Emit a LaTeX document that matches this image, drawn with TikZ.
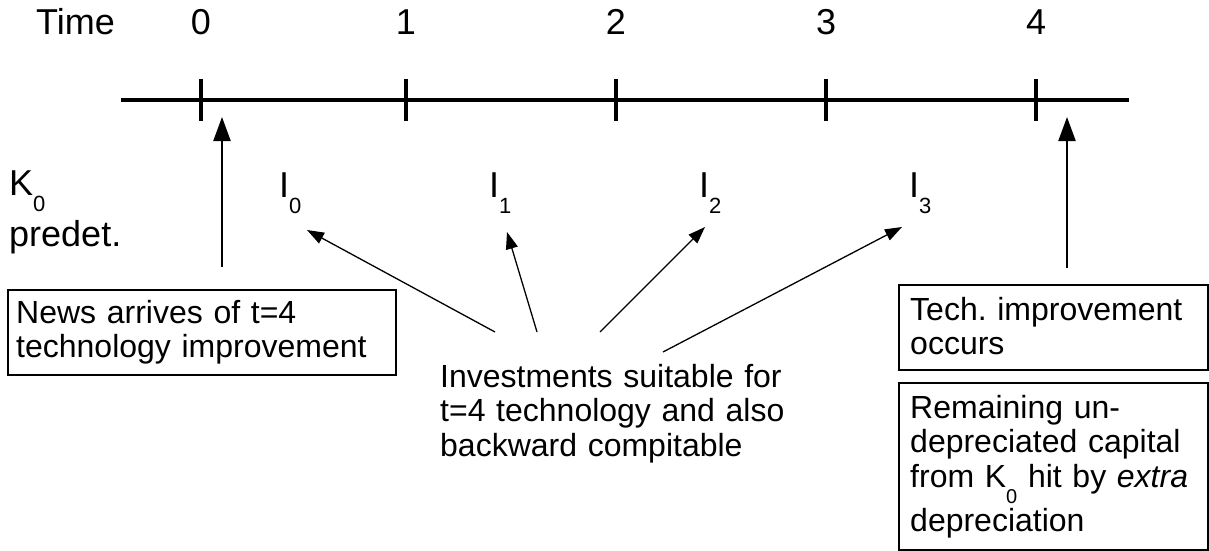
\documentclass[tikz,border=0pt]{standalone}
\usepackage{fontspec}
\setmainfont{Liberation Sans}
\usetikzlibrary{arrows.meta}
% subscripts set low, their top level with the letter's baseline
\newcommand{\labsub}[1]{\raisebox{-16pt}{\fontsize{22}{22}\selectfont #1}}
\newcommand{\boxsub}[1]{\raisebox{-16pt}{\fontsize{20}{20}\selectfont #1}}

\begin{document}
\begin{tikzpicture}[x=1pt,y=-1pt,
  big/.style={font=\fontsize{36}{40}\selectfont, inner sep=0pt},
  lbl/.style={font={\fontsize{32}{34.5}\selectfont\lineskip=5.5pt}, inner sep=0pt},
  para/.style={lbl, text width=#1, align=left, anchor=base west},
  frame/.style={draw, line width=1.5pt, inner sep=0pt, anchor=north west},
  axis/.style={line width=4pt},
  tickmark/.style={line width=3.5pt},
  bigarrow/.style={line width=2.2pt, -{Triangle[length=24pt,width=17pt]}},
  thinarrow/.style={line width=1.3pt, -{Triangle[length=17pt,width=12pt]}}]

\useasboundingbox[fill=white] (0,0) rectangle (1209,551);

% time axis
\coordinate (axisL) at (121,100);
\coordinate (axisR) at (1129,100);
\draw[axis] (axisL) -- (axisR);

\node[big, anchor=base west] (timelbl) at (36,35) {Time};
\foreach \t/\x in {0/201,1/406,2/616,3/826,4/1036}{
  \coordinate (tickTop\t) at (\x,79);
  \coordinate (tickBot\t) at (\x,121);
  \draw[tickmark] (tickTop\t) -- (tickBot\t);
  \node[big, anchor=base] (num\t) at (\x,35) {\t};
}

% initial capital
\node[big, anchor=base west] (kzero) at (9,195) {K\labsub{0}};
\node[big, anchor=base west] (predet) at (9,246) {predet.};

% investments in each period
\foreach \i/\x in {0/279,1/489,2/699,3/909}{
  \node[big, anchor=base west] (inv\i) at (\x,197) {I\labsub{\i}};
}

% news box
\node[frame, minimum width=388pt, minimum height=85pt] (newsbox) at (7,289) {};
\node[para=370pt] (newstext) at (16,323)
  {News arrives of t=4\\technology improvement};
\coordinate (newsTail) at (222,267);
\coordinate (newsTip) at (222,117);
\draw[bigarrow] (newsTail) -- (newsTip);

% investments note
\node[para=360pt] (invtext) at (440,387)
  {Investments suitable for\\t=4 technology and also\\backward compitable};
\coordinate (tail0) at (495,332);
\coordinate (tail1) at (537,332);
\coordinate (tail2) at (600,332);
\coordinate (tail3) at (663,352);
\coordinate (tip0) at (307,230);
\coordinate (tip1) at (507,232);
\coordinate (tip2) at (705,227);
\coordinate (tip3) at (902,227);
\foreach \i in {0,1,2,3}{
  \draw[thinarrow] (tail\i) -- (tip\i);
}

% technology boxes
\node[frame, minimum width=309pt, minimum height=85pt] (techbox) at (898,284) {};
\node[para=295pt] (techtext) at (910,320) {Tech.\ improvement\\occurs};
\coordinate (techTail) at (1067,268);
\coordinate (techTip) at (1067,117);
\draw[bigarrow] (techTail) -- (techTip);

\node[frame, minimum width=309pt, minimum height=167pt] (rembox) at (898,382) {};
\node[para=300pt] (remtext) at (910,418)
  {Remaining un-\\depreciated capital\\from K\boxsub{0} hit by \textit{extra}\\depreciation};

\end{tikzpicture}
\end{document}
